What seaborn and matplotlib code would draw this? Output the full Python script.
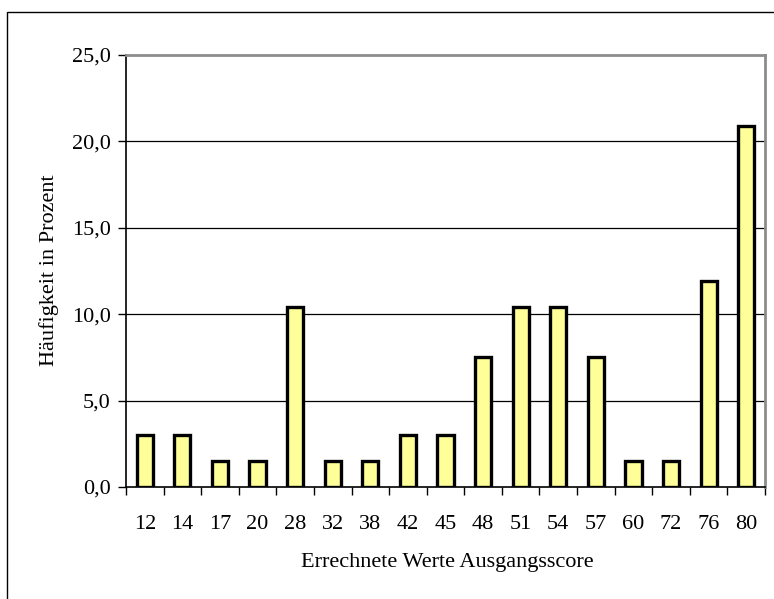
import matplotlib
matplotlib.use("Agg")
import matplotlib.pyplot as plt
import seaborn as sns
import pandas as pd
from matplotlib.patches import Rectangle
from matplotlib.ticker import FixedLocator, FuncFormatter

categories = ["12", "14", "17", "20", "28", "32", "38", "42", "45", "48", "51", "54", "57", "60", "72", "76", "80"]
values = [3.0, 3.0, 1.5, 1.5, 10.4, 1.5, 1.5, 3.0, 3.0, 7.5, 10.4, 10.4, 7.5, 1.5, 1.5, 11.9, 20.9]
y_ticks = [0, 5, 10, 15, 20, 25]

sns.set_style("white")
plt.rcParams['font.family'] = ['Liberation Serif', 'DejaVu Serif']
plt.rcParams['text.color'] = 'black'
plt.rcParams['axes.labelcolor'] = 'black'
plt.rcParams['xtick.color'] = 'black'
plt.rcParams['ytick.color'] = 'black'

df = pd.DataFrame({"score": categories, "pct": values})

fig = plt.figure(figsize=(7.74, 5.99), dpi=100)
ax = fig.add_axes([126/774, 1-487/599, (765-126)/774, (487-55)/599])

# outer frame
fig.patches.append(Rectangle((7/774, -0.05), 1.1, 0.05 + (1-12/599), transform=fig.transFigure,
                             fill=False, edgecolor="black", linewidth=1.0, zorder=0))

sns.barplot(data=df, x="score", y="pct", order=categories, color="#FFFF99",
            edgecolor="black", linewidth=2.4, width=0.43, saturation=1, ax=ax, zorder=3)

fs = 16
ax.set_ylim(0, 25)
ax.set_xlim(-0.5, len(categories) - 0.5)
ax.set_yticks(y_ticks)
ax.yaxis.set_major_formatter(FuncFormatter(lambda v, p: f"{v:.1f}".replace(".", ",")))
for y in y_ticks[1:-1]:
    ax.axhline(y, color="black", linewidth=0.9, zorder=1)

ax.set_xticks(range(len(categories)))
ax.set_xticklabels(categories)
ax.tick_params(axis="x", which="major", length=0, pad=20, labelsize=fs, labelcolor="black")
ax.xaxis.set_minor_locator(FixedLocator([i - 0.5 for i in range(len(categories) + 1)]))
ax.tick_params(axis="x", which="minor", length=6, width=1, direction="out", color="black", bottom=True)
ax.tick_params(axis="y", length=6, width=1, direction="out", color="black", left=True, labelsize=fs, pad=5,
               labelcolor="black")

for s in ["left", "bottom"]:
    ax.spines[s].set_color("black")
    ax.spines[s].set_linewidth(1.2)
for s in ["top", "right"]:
    ax.spines[s].set_color("#8c8c8c")
    ax.spines[s].set_linewidth(2)

ax.set_xlabel("Errechnete Werte Ausgangsscore", fontsize=fs, color="black")
ax.set_ylabel("Häufigkeit in Prozent", fontsize=fs, color="black")
ax.xaxis.label.set_va("center")
ax.yaxis.label.set_va("center")
ax.xaxis.set_label_coords(0.5 + (447 - 445.5) / 639, -(562 - 487) / 432)
ax.yaxis.set_label_coords(-(126 - 49) / 639, (487 - 270) / 432)

fig.savefig("out.png", dpi=100)
